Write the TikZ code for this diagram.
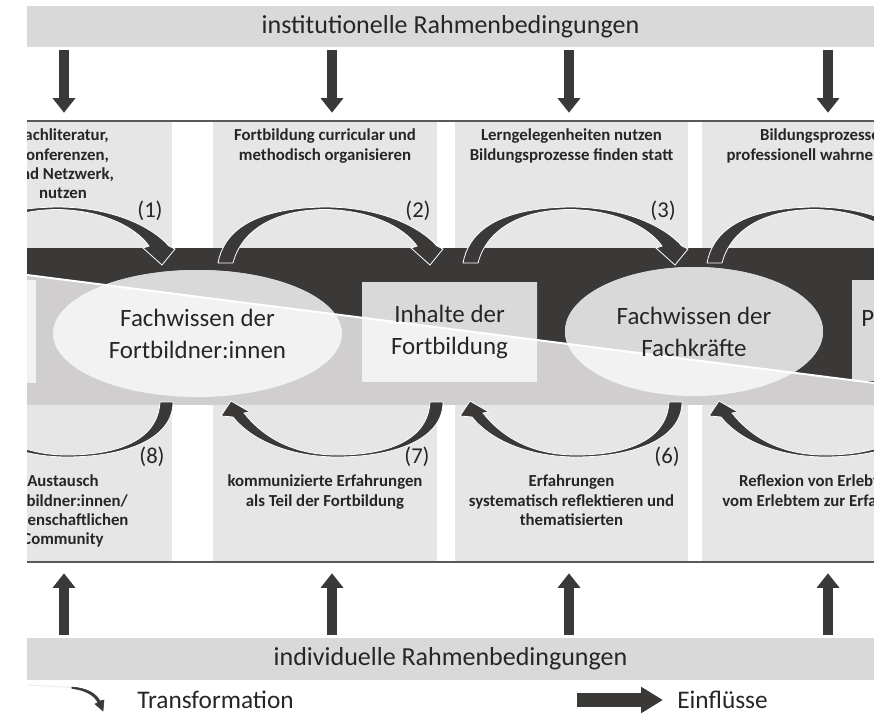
\documentclass[tikz,border=0pt]{standalone}
\usepackage{fontspec}
\setmainfont{Carlito}
\usetikzlibrary{positioning, arrows.meta, shapes.geometric, calc}

\definecolor{bandgray}{HTML}{D9D9D9}
\definecolor{boxgray}{HTML}{E7E6E6}
\definecolor{darkband}{HTML}{3B3838}
\definecolor{midgray}{HTML}{D0CECE}
\definecolor{nodeupper}{HTML}{D9D9D9}
\definecolor{nodelower}{HTML}{F2F2F2}
\definecolor{rulegray}{HTML}{595959}
\definecolor{textgray}{HTML}{262626}

\begin{document}
\begin{tikzpicture}[
    x=0.75pt, y=-0.75pt,
    band/.style={fill=bandgray, minimum width=635.25pt, minimum height=30.75pt, inner sep=0pt, text=textgray, font=\fontsize{19.5}{23}\selectfont},
    box_up/.style={fill=boxgray, minimum height=94.5pt, inner sep=0pt},
    box_low/.style={fill=boxgray, minimum height=117pt, inner sep=0pt},
    box_text/.style={font=\bfseries\fontsize{12.6}{14.5}\selectfont, align=center, inner sep=0pt, text=textgray},
    mid_node/.style={fill=nodelower, inner sep=0pt, align=center, text=textgray, font=\fontsize{18.7}{24}\selectfont,
        path picture={
            \fill[nodeupper] (ul) -- (ur) -- (dr) -- (dl) -- cycle;
            \draw[white, line width=1.5pt] (dl) -- (dr);
        }},
    trans_arrow/.style={fill=darkband, draw=white, line width=0.6pt},
    num_label/.style={font=\fontsize{17}{20}\selectfont, text=textgray},
    einfluss/.style={draw=darkband, line width=7.5pt, -{Triangle[width=16.5pt, length=11pt]}},
    legend_text/.style={font=\fontsize{19}{22}\selectfont, text=textgray, inner sep=0pt}
]

\useasboundingbox (0,0) rectangle (874,724);

% Macros for the curved transformation arrows
\newcommand{\upperArrow}[2]{
    \begin{scope}[shift={(#1,0)}]
        \filldraw[trans_arrow] (0,263) .. controls (5,235) and (30,208) .. (107,207)
            .. controls (160,207) and (200,225) .. (219,246)
            -- (225,249) -- (212,265) -- (193,248) -- (199,246)
            .. controls (185,226) and (150,210) .. (107,209.5)
            .. controls (50,210) and (22,235) .. (15,263) -- cycle;
        \node[num_label] at (200,211) {#2};
    \end{scope}
}
\newcommand{\lowerArrow}[3]{
    \begin{scope}[shift={(#1,0)}]
        \filldraw[trans_arrow] (0,402) .. controls (0,440) and (-50,457) .. (-106,457)
            .. controls (-150,457) and (-190,442) .. (-210,417)
            -- (-222,416) -- (-212,401) -- (-193,412) -- (-199,413)
            .. controls (-180,437) and (-150,455) .. (-106,455)
            .. controls (-55,455) and (-15,440) .. (-13,402) -- cycle;
        \node[num_label] at (#2,457) {#3};
    \end{scope}
}

% ==========================================
% Rahmenbedingungen
\node[band] (inst) at (450.5,26.5) {institutionelle Rahmenbedingungen};
\node[band, minimum height=31.5pt] (indiv) at (450.5,659) {individuelle Rahmenbedingungen};

\coordinate (e1) at (64,0);
\coordinate (e2) at (332,0);
\coordinate (e3) at (569,0);
\coordinate (e4) at (828,0);

\begin{scope}
\clip (27,100) rectangle (874,600);

% ==========================================
% Kästen oben und unten
\node[box_up, minimum width=163.5pt] (ob1) at (63,185) {};
\node[box_up, minimum width=168pt] (ob2) at (325,185) {};
\node[box_up, minimum width=174.75pt] (ob3) at (571.5,185) {};
\node[box_up, minimum width=177pt] (ob4) at (820,185) {};
\node[box_low, minimum width=163.5pt] (ub1) at (63,483) {};
\node[box_low, minimum width=168pt] (ub2) at (325,483) {};
\node[box_low, minimum width=174.75pt] (ub3) at (571.5,483) {};
\node[box_low, minimum width=177pt] (ub4) at (820,483) {};

\node[box_text, below=5.25pt of ob1.north] (ot1) {Fachliteratur,\\Konferenzen,\\und Netzwerk,\\nutzen};
\node[box_text, below=5.25pt of ob2.north] (ot2) {Fortbildung curricular und\\methodisch organisieren};
\node[box_text, below=5.25pt of ob3.north] (ot3) {Lerngelegenheiten nutzen\\Bildungsprozesse finden statt};
\node[box_text, below=5.25pt of ob4.north] (ot4) {Bildungsprozesse\\professionell wahrnehmen};
\node[box_text, below=52.5pt of ub1.north] (ut1) {Austausch\\Fortbildner:innen/\\wissenschaftlichen\\Community};
\node[box_text, below=52.5pt of ub2.north] (ut2) {kommunizierte Erfahrungen\\als Teil der Fortbildung};
\node[box_text, below=52.5pt of ub3.north] (ut3) {Erfahrungen\\systematisch reflektieren und\\thematisierten};
\node[box_text, below=52.5pt of ub4.north] (ut4) {Reflexion von Erlebtem\\vom Erlebtem zur Erfahrung};

% ==========================================
% mittleres Band mit Diagonale
\coordinate (dl) at (27,275);
\coordinate (dr) at (874,383);
\coordinate (ul) at (27,200);
\coordinate (ur) at (874,200);
\fill[midgray] (27,248) rectangle (874,405);
\fill[darkband] (27,248) -- (874,248) -- (dr) -- (dl) -- cycle;
\draw[white, line width=1.5pt] (dl) -- (dr);

\node[mid_node, minimum width=132pt, minimum height=77.25pt] (lbox) at (-52,331.5) {};
\node[mid_node, ellipse, minimum width=216.75pt, minimum height=95.25pt] (fwb) at (197.5,333.5) {Fachwissen der\\Fortbildner:innen};
\node[mid_node, minimum width=131.25pt, minimum height=75pt] (inh) at (449.5,332) {Inhalte der\\Fortbildung};
\node[mid_node, ellipse, minimum width=193.5pt, minimum height=96.75pt] (fwf) at (694,331.5) {Fachwissen der\\Fachkräfte};
\node[mid_node, minimum width=131.25pt, minimum height=75pt] (rbox) at (939.5,330) {};
\node[anchor=west, inner sep=0pt, text=textgray, font=\fontsize{18.7}{24}\selectfont] (rtext) at (861,318) {P};

% ==========================================
% Transformation (1)-(8)
\upperArrow{-50}{(1)}
\upperArrow{218}{(2)}
\upperArrow{463}{(3)}
\upperArrow{707}{}
\lowerArrow{173}{-21}{(8)}
\lowerArrow{443}{-26}{(7)}
\lowerArrow{682}{-15}{(6)}
\lowerArrow{931}{0}{}

% Trennlinien
\draw[rulegray, line width=1.5pt] ([yshift=0.75pt]ob1.north west) -- ([yshift=0.75pt]ob4.north east);
\draw[rulegray, line width=1.5pt] ([yshift=-0.75pt]ub1.south west) -- ([yshift=-0.75pt]ub4.south east);
\end{scope}

% ==========================================
% Einflüsse
\foreach \i in {1,...,4} {
    \draw[einfluss, shorten <=2.25pt, shorten >=6.75pt] (inst.south -| e\i) -- (ob1.north -| e\i);
    \draw[einfluss, shorten <=2.25pt, shorten >=9pt] (indiv.north -| e\i) -- (ub1.south -| e\i);
}

% ==========================================
% Legende
\draw[gray!15, line width=0.75pt] (28,685) -- (72,687.5);
\filldraw[darkband] (72,687) .. controls (86,688) and (96,693) .. (100,701)
    -- (104,700) -- (103,711) -- (95,704) -- (98,702.5)
    .. controls (94,695) and (85,690) .. (72,688.5) -- cycle;
\node[legend_text, anchor=west] (ltrans) at (137,700) {Transformation};
\node[legend_text, anchor=west] (leinfl) at (677,700) {Einflüsse};
\coordinate (lstart) at (577,700);
\draw[einfluss, line width=10.5pt, -{Triangle[width=18.75pt, length=16.5pt]}, shorten >=10.5pt] (lstart) -- (leinfl.west);

\end{tikzpicture}
\end{document}
